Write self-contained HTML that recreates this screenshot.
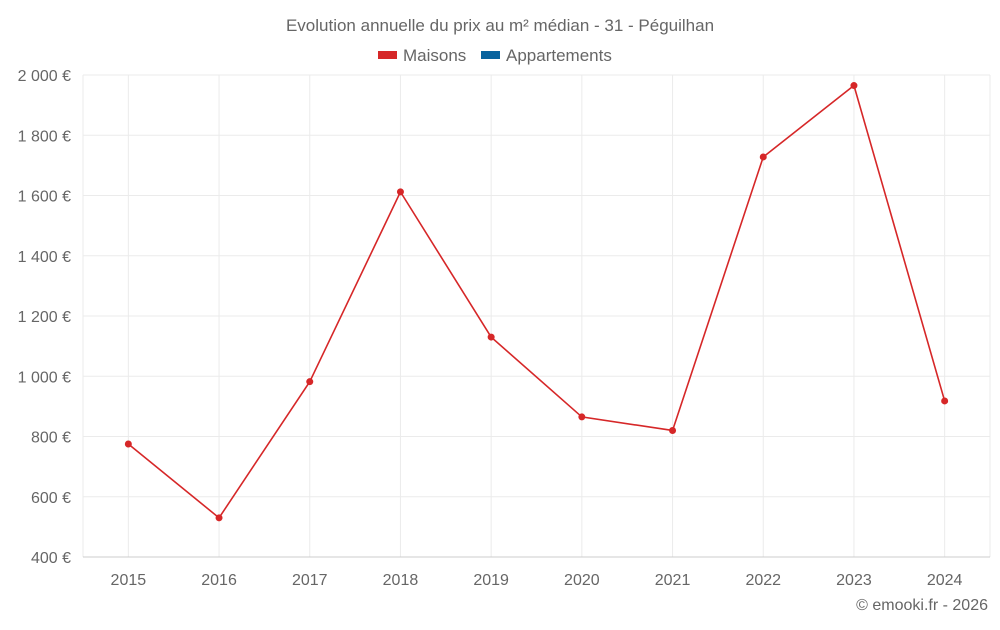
<!DOCTYPE html>
<html><head><meta charset="utf-8"><style>
body{margin:0;background:#fff;font-family:"Liberation Sans",sans-serif;}
svg text{font-family:"Liberation Sans",sans-serif;fill:#666;}
</style></head><body>
<svg id="chart" width="1000" height="625" xmlns="http://www.w3.org/2000/svg">
<text x="500" y="31" text-anchor="middle" font-size="17">Evolution annuelle du prix au m² médian - 31 - Péguilhan</text>
<g>
<rect x="378" y="51" width="19" height="8" fill="#d62728"/>
<text x="403" y="61" font-size="17">Maisons</text>
<rect x="481" y="51" width="19" height="8" fill="#08639e"/>
<text x="506" y="61" font-size="17">Appartements</text>
</g>
<g id="grid"></g><g id="axes"></g><g id="series"></g>
<text x="988" y="610" text-anchor="end" font-size="16">© emooki.fr - 2026</text>
</svg>
<script>
const categories=["2015","2016","2017","2018","2019","2020","2021","2022","2023","2024"];
const maisons=[775,530,982,1612,1130,865,820,1728,1965,918];
const yTicks=[400,600,800,1000,1200,1400,1600,1800,2000];
const yTickLabels=["400 €","600 €","800 €","1 000 €","1 200 €","1 400 €","1 600 €","1 800 €","2 000 €"];
const L=83,R=990,T=75,B=557,ymin=400,ymax=2000;
const ns="http://www.w3.org/2000/svg";
const band=(R-L)/categories.length;
const x=i=>L+band*(i+0.5);
const y=v=>B-(v-ymin)/(ymax-ymin)*(B-T);
function mk(t,a,p){const e=document.createElementNS(ns,t);for(const k in a)e.setAttribute(k,a[k]);p.appendChild(e);return e;}
const g=document.getElementById('grid'),ax=document.getElementById('axes'),s=document.getElementById('series');
[L,R].forEach(px=>{
 const l=mk('line',{x1:px,x2:px,y1:T,y2:B,stroke:'#ebebeb'},g);
 
 
});
categories.forEach((c,i)=>{
 const l=mk('line',{x1:x(i),x2:x(i),y1:T,y2:B,stroke:'#ebebeb'},g);
 
 
 const t=mk('text',{x:x(i),y:585,'text-anchor':'middle','font-size':16},ax);
 t.textContent=c;
 
 
});
yTicks.forEach((v,i)=>{
 const l=mk('line',{x1:L,x2:R,y1:y(v),y2:y(v),stroke:v==ymin?'#ccc':'#ebebeb'},g);
 
 
 const t=mk('text',{x:71,y:y(v)+6,'text-anchor':'end','font-size':16},ax);
 t.textContent=yTickLabels[i];
 
 
});
const p=mk('polyline',{points:maisons.map((v,i)=>x(i)+','+y(v)).join(' '),fill:'none',stroke:'#d62728','stroke-width':1.6},s);


maisons.forEach((v,i)=>{
 const c=mk('circle',{cx:x(i),cy:y(v),r:3.5,fill:'#d62728'},s);
 
 
});
</script>
</body></html>
